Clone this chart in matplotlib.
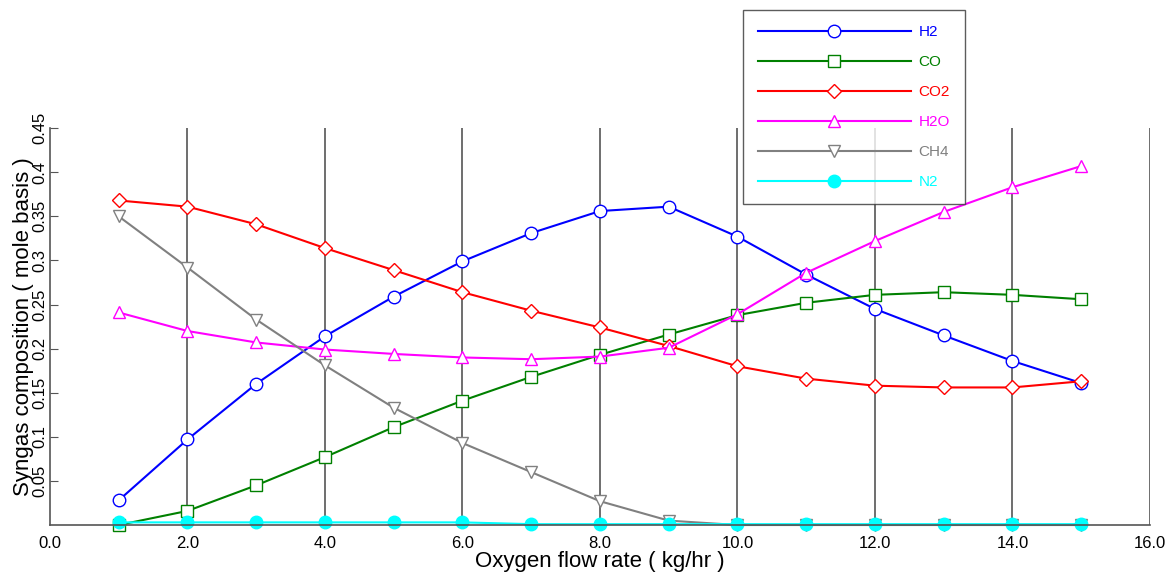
import numpy as np
import matplotlib.pyplot as plt

plt.rcParams['font.family'] = ['Liberation Sans', 'DejaVu Sans']

oxygen = [1, 2, 3, 4, 5, 6, 7, 8, 9, 10, 11, 12, 13, 14, 15]
h2 = [0.028, 0.097, 0.160, 0.214, 0.259, 0.299, 0.331, 0.356, 0.361, 0.327, 0.284, 0.245, 0.215, 0.186, 0.161]
co = [0.0, 0.016, 0.045, 0.077, 0.111, 0.141, 0.168, 0.193, 0.216, 0.238, 0.252, 0.261, 0.264, 0.261, 0.256]
co2 = [0.368, 0.361, 0.341, 0.314, 0.289, 0.264, 0.243, 0.224, 0.203, 0.180, 0.166, 0.158, 0.156, 0.156, 0.163]
h2o = [0.241, 0.220, 0.207, 0.199, 0.194, 0.190, 0.188, 0.191, 0.201, 0.239, 0.286, 0.322, 0.355, 0.383, 0.407]
ch4 = [0.350, 0.292, 0.233, 0.181, 0.133, 0.093, 0.060, 0.027, 0.005, 0.0, 0.0, 0.0, 0.0, 0.0, 0.0]
n2 = [0.003, 0.003, 0.003, 0.003, 0.003, 0.003, 0.001, 0.001, 0.001, 0.001, 0.001, 0.001, 0.001, 0.001, 0.001]

fig = plt.figure(figsize=(11.67, 5.76), dpi=100)
ax = fig.add_axes([0.0428, 0.0885, 0.9426, 0.689])

# vertical grid lines
for xv in range(2, 17, 2):
    ax.axvline(xv, color='#555555', lw=1.2, zorder=0)

series = [
    ('H2', h2, '#0000ff', 'o', 'none'),
    ('CO', co, '#008000', 's', 'none'),
    ('CO2', co2, '#ff0000', 'D', 'none'),
    ('H2O', h2o, '#ff00ff', '^', 'none'),
    ('CH4', ch4, '#808080', 'v', 'none'),
    ('N2', n2, '#00ffff', 'o', '#00ffff'),
]
for name, vals, c, m, fc in series:
    ms = 7 if m == 'D' else 9
    ax.plot(oxygen, vals, color=c, marker=m, markersize=ms, markerfacecolor=fc if fc != 'none' else 'white',
            markeredgecolor=c, lw=1.5, label=name, clip_on=False)

ax.set_xlim(0, 16)
ax.set_ylim(0, 0.45)
ax.set_xticks(np.arange(0, 17, 2))
ax.set_xticklabels([f'{v:.1f}' for v in np.arange(0, 17, 2)])
ax.set_yticks([0.05, 0.1, 0.15, 0.2, 0.25, 0.3, 0.35, 0.4, 0.45])
ax.set_yticklabels(['0.05', '0.1', '0.15', '0.2', '0.25', '0.3', '0.35', '0.4', '0.45'],
                   rotation=90, va='center')
ax.tick_params(axis='both', direction='in', labelsize=12, colors='#555555', labelcolor='black')
ax.tick_params(axis='x', length=0, pad=8)
ax.tick_params(axis='y', length=6, pad=2)
for s in ['top', 'right']:
    ax.spines[s].set_visible(False)
for s in ['left', 'bottom']:
    ax.spines[s].set_color('#555555')
    ax.spines[s].set_linewidth(1.2)

ax.set_xlabel('Oxygen flow rate ( kg/hr )', fontsize=16, labelpad=0)
ax.set_ylabel('Syngas composition ( mole basis )', fontsize=16, labelpad=-1)

leg = fig.legend(loc='upper left', bbox_to_anchor=(735 / 1167, 1 - 2 / 576), numpoints=1,
                 handlelength=10, fontsize=11, frameon=True, fancybox=False,
                 borderpad=1.0, labelspacing=1.05, handletextpad=0.5)
leg.get_frame().set_edgecolor('#333333')
leg.get_frame().set_linewidth(1.0)
for txt, (name, vals, c, m, fc) in zip(leg.get_texts(), series):
    txt.set_color(c)

fig.savefig('out.png', dpi=100)
